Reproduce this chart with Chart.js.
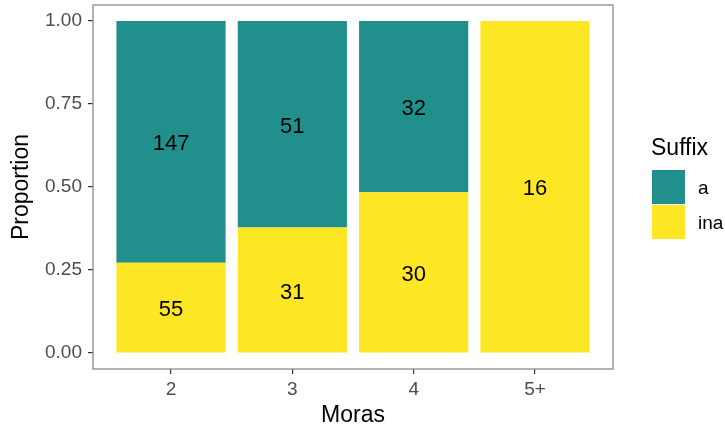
<!DOCTYPE html>
<html>
<head>
<meta charset="utf-8">
<script src="https://cdn.jsdelivr.net/npm/chart.js@4/dist/chart.umd.min.js"></script>
<style>
  html, body { margin: 0; padding: 0; background: #ffffff; }
  #wrap { width: 725px; height: 430px; position: relative; }
</style>
</head>
<body>
<div id="wrap"><canvas id="c" width="725" height="430"></canvas></div>
<script>
const categories = ['2', '3', '4', '5+'];
const countA = [147, 51, 32, 0];
const countIna = [55, 31, 30, 16];
const yTicks = [0, 0.25, 0.5, 0.75, 1.0];
const seriesNames = ['a', 'ina'];
const seriesColors = ['#21908C', '#FDE725'];

const totals = categories.map((_, i) => countA[i] + countIna[i]);
const propA = countA.map((v, i) => v / totals[i]);
const propIna = countIna.map((v, i) => v / totals[i]);

const FONT = '"Liberation Sans", Arial, Helvetica, sans-serif';

const overlay = {
  id: 'overlay',
  afterDatasetsDraw(chart) {
    const ctx = chart.ctx;
    const ca = chart.chartArea;
    ctx.save();
    ctx.fillStyle = '#000000';
    ctx.font = '22px ' + FONT;
    ctx.textAlign = 'center';
    ctx.textBaseline = 'middle';
    chart.data.datasets.forEach((ds, di) => {
      const meta = chart.getDatasetMeta(di);
      meta.data.forEach((el, i) => {
        const cnt = ds.counts[i];
        if (!cnt) return;
        const p = el.getProps(['x', 'y', 'base'], true);
        ctx.fillText(String(cnt), p.x, (p.y + p.base) / 2 + 2.5);
      });
    });
    ctx.strokeStyle = '#8a8a8a';
    ctx.lineWidth = 1.3;
    ctx.strokeRect(ca.left, ca.top, ca.right - ca.left, ca.bottom - ca.top);
    ctx.restore();
  },
  afterDraw(chart) {
    const ctx = chart.ctx;
    const ca = chart.chartArea;
    ctx.save();
    ctx.fillStyle = '#000000';
    ctx.font = '23px ' + FONT;
    ctx.textAlign = 'center';
    ctx.textBaseline = 'middle';
    ctx.fillText('Moras', (ca.left + ca.right) / 2, 416);
    ctx.save();
    ctx.translate(22, (ca.top + ca.bottom) / 2);
    ctx.rotate(-Math.PI / 2);
    ctx.fillText('Proportion', 0, 0);
    ctx.restore();
    ctx.textAlign = 'left';
    ctx.fillText('Suffix', 651, 149);
    [0, 1].forEach((k, j) => {
      const y0 = 170 + j * 35;
      ctx.fillStyle = seriesColors[k];
      ctx.fillRect(652, y0, 33, 34);
      ctx.fillStyle = '#000000';
      ctx.font = '19px ' + FONT;
      ctx.fillText(seriesNames[k], 698, y0 + 19);
    });
    ctx.restore();
  }
};

new Chart(document.getElementById('c'), {
  type: 'bar',
  data: {
    datasets: [
      {
        label: seriesNames[1],
        data: propIna.map((v, i) => ({ x: i, y: v })),
        counts: countIna,
        backgroundColor: seriesColors[1],
        borderWidth: 0,
        barPercentage: 0.9,
        categoryPercentage: 1.0
      },
      {
        label: seriesNames[0],
        data: propA.map((v, i) => ({ x: i, y: v })),
        counts: countA,
        backgroundColor: seriesColors[0],
        borderWidth: 0,
        barPercentage: 0.9,
        categoryPercentage: 1.0
      }
    ]
  },
  options: {
    responsive: false,
    animation: false,
    devicePixelRatio: 1,
    layout: { padding: { top: 5, right: 112, left: 0, bottom: 0 } },
    plugins: { legend: { display: false }, tooltip: { enabled: false } },
    scales: {
      x: {
        type: 'linear',
        stacked: true,
        offset: false,
        min: -0.643,
        max: 3.643,
        afterBuildTicks: (s) => { s.ticks = categories.map((_, i) => ({ value: i })); },
        afterFit: (s) => { s.height = 61; s.paddingLeft = 0; s.paddingRight = 0; },
        ticks: {
          callback: (v) => categories[v],
          color: '#4D4D4D',
          font: { family: FONT, size: 19 },
          padding: 4,
          maxRotation: 0,
          autoSkip: false
        },
        grid: { display: true, offset: false, drawOnChartArea: false, drawTicks: true, tickLength: 5, color: '#333333', lineWidth: 1.2 },
        border: { display: false }
      },
      y: {
        stacked: true,
        min: -0.048,
        max: 1.048,
        afterBuildTicks: (s) => { s.ticks = yTicks.map(v => ({ value: v })); },
        afterFit: (s) => { s.width = 93; s.paddingTop = 0; s.paddingBottom = 0; },
        ticks: {
          callback: (v) => v.toFixed(2),
          color: '#4D4D4D',
          font: { family: FONT, size: 19 },
          padding: 6
        },
        grid: { display: true, drawOnChartArea: false, drawTicks: true, tickLength: 5, color: '#333333', lineWidth: 1.2 },
        border: { display: false }
      }
    }
  },
  plugins: [overlay]
});
</script>
</body>
</html>
